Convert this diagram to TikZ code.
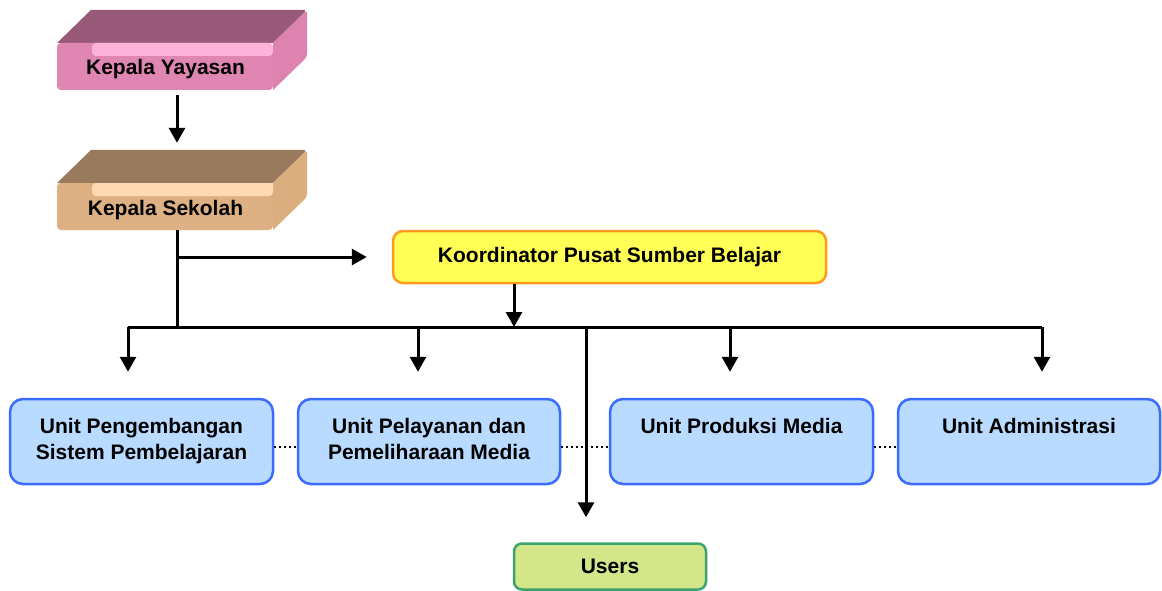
\documentclass[tikz,border=0pt]{standalone}
\usepackage{fontspec}
\setmainfont{Liberation Sans}
\usetikzlibrary{arrows.meta}

\definecolor{pinkTop}{HTML}{985A78}
\definecolor{pinkFront}{HTML}{E086B2}
\definecolor{pinkHi}{HTML}{FBB3DA}
\definecolor{pinkSide}{HTML}{DE82B0}
\definecolor{tanTop}{HTML}{9A7A5C}
\definecolor{tanFront}{HTML}{DDB184}
\definecolor{tanHi}{HTML}{FED9B1}
\definecolor{tanSide}{HTML}{DBAE80}
\definecolor{koFill}{HTML}{FFFF55}
\definecolor{koEdge}{HTML}{FF9A1E}
\definecolor{unFill}{HTML}{B9DBFF}
\definecolor{unEdge}{HTML}{3B6BFF}
\definecolor{usFill}{HTML}{D4E68A}
\definecolor{usEdge}{HTML}{3DA36E}

\tikzset{
  lbl/.style={font=\fontsize{21}{26}\selectfont\bfseries, align=center, inner sep=0pt},
  unitbox/.style={draw=unEdge, fill=unFill, line width=2.5pt, rounded corners=13pt,
                  minimum height=85pt, inner sep=0pt},
  wire/.style={line width=3pt},
  arr/.style={line width=3pt, -{Triangle[length=15pt,width=16pt]}},
  dots/.style={line width=2pt, dash pattern=on 2pt off 3pt},
}

% a slab with top and right bevel faces; #1 = vertical offset, #2..#5 colours
\newcommand{\slabbox}[5]{%
  \begin{scope}[yshift=-#1pt]
    \fill[#3] (91,10) [rounded corners=3pt] -- (307,10) [sharp corners] -- (273,43) -- (57,43) -- cycle;
    \fill[#5] (273,43) [rounded corners=3pt] -- (307,10) -- (307,57) [sharp corners] -- (273,90) -- cycle;
    \fill[#2, rounded corners=4pt] (57,43) rectangle (273,90);
    \fill[#4, rounded corners=4pt] (92,43) rectangle (273,56);
  \end{scope}}

\begin{document}
\begin{tikzpicture}[x=1pt,y=-1pt]
  \useasboundingbox (0,0) rectangle (1162,591);

  % the two bevelled slabs
  \slabbox{0}{pinkFront}{pinkTop}{pinkHi}{pinkSide}
  \slabbox{140}{tanFront}{tanTop}{tanHi}{tanSide}
  \node[minimum width=250pt, minimum height=80pt, inner sep=0pt] (ky) at (182,50) {};
  \node[minimum width=250pt, minimum height=80pt, inner sep=0pt] (ks) at (182,190) {};
  \node[lbl, anchor=base] (kyt) at (165.5,75) {Kepala Yayasan};
  \node[lbl, anchor=base] (kst) at (165.5,215) {Kepala Sekolah};

  % coordinator
  \node[lbl, draw=koEdge, fill=koFill, line width=2.5pt, rounded corners=10pt,
        minimum width=433pt, minimum height=52pt] (kp) at (609.5,257) {Koordinator Pusat Sumber Belajar};

  % units
  \node[unitbox, lbl, minimum width=263pt] (u1) at (141.5,441.5) {\strut Unit Pengembangan\\Sistem Pembelajaran\strut};
  \node[unitbox, lbl, minimum width=262pt] (u2) at (429,441.5) {\strut Unit Pelayanan dan\\Pemeliharaan Media\strut};
  \node[unitbox, minimum width=263pt] (u3) at (741.5,441.5) {};
  \node[unitbox, minimum width=262pt] (u4) at (1029,441.5) {};
  \node[lbl, anchor=base] (u3t) at (741.5,433) {Unit Produksi Media};
  \node[lbl, anchor=base] (u4t) at (1029,433) {Unit Administrasi};

  % users
  \node[lbl, draw=usEdge, fill=usFill, line width=2.5pt, rounded corners=8pt,
        minimum width=192pt, minimum height=46pt] (us) at (610,566.5) {Users};

  % junctions on the distribution bar
  \coordinate (trunk) at (177,327);
  \coordinate (d1) at (128,327);
  \coordinate (d2) at (418,327);
  \coordinate (d3) at (730,327);
  \coordinate (d4) at (1042,327);
  \coordinate (d5) at (586,327);

  % connectors
  \draw[arr] ([xshift=-5pt,yshift=-5pt]ky.south) -- ([xshift=-5pt,yshift=7pt]ks.north);
  \draw[wire] ([xshift=-5pt]ks.south) -- (trunk);
  \draw[arr] ([xshift=-5pt]ks.south |- kp.west) -- ([xshift=-25pt]kp.west);
  \draw[arr] ([xshift=-95.5pt]kp.south) -- ([xshift=-95.5pt]kp.south |- trunk);
  \draw[wire] (d1) -- (d4);
  \draw[arr] (d1) -- ([yshift=26pt]u1.north -| d1);
  \draw[arr] (d2) -- ([yshift=26pt]u2.north -| d2);
  \draw[arr] (d3) -- ([yshift=26pt]u3.north -| d3);
  \draw[arr] (d4) -- ([yshift=26pt]u4.north -| d4);
  \draw[arr] (d5) -- ([yshift=25pt]us.north -| d5);

  % dotted links between neighbouring units
  \draw[dots] ([yshift=-5.5pt]u1.east) -- ([yshift=-5.5pt]u2.west);
  \draw[dots] ([yshift=-5.5pt]u2.east) -- ([yshift=-5.5pt]u3.west);
  \draw[dots] ([yshift=-5.5pt]u3.east) -- ([yshift=-5.5pt]u4.west);
\end{tikzpicture}
\end{document}
